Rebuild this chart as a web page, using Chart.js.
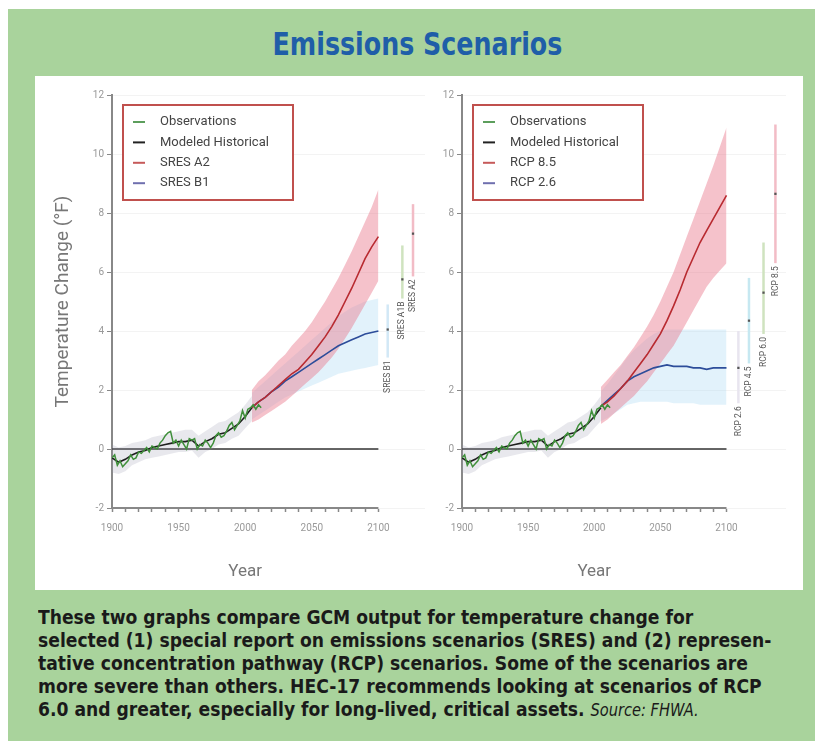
<!DOCTYPE html>
<html lang="en">
<head>
<meta charset="UTF-8">
<title>Emissions Scenarios</title>
<script src="https://cdn.jsdelivr.net/npm/chart.js"></script>
<style>
    body { margin: 0; background: #fff; width: 820px; height: 741px; position: relative; overflow: hidden; }
    #frame { position: absolute; left: 8px; top: 9px; width: 807px; height: 732px; background: #a9d39c; }
    h1 { position: absolute; left: 0; top: 25px; width: 835px; margin: 0; text-align: center;
         font: bold 32px "DejaVu Sans Condensed", sans-serif; color: #1f5ea8;
         transform: scaleX(0.88); transform-origin: 417px 0; }
    #panel { position: absolute; left: 35px; top: 76px; width: 768px; height: 514px; background: #fff; }
    canvas { position: absolute; top: 76px; }
    #left { left: 35px; }
    #right { left: 429px; }
    #caption { position: absolute; left: 38px; top: 606px; width: 820px;
               font: bold 20px/23px "DejaVu Sans Condensed", sans-serif; color: #1a1a1a;
               transform: scaleX(0.955); transform-origin: 0 0; }
    #caption i { font-weight: normal; font-size: 17px; }
</style>
</head>
<body>
<div id="frame"></div>
<h1>Emissions Scenarios</h1>
<div id="panel"></div>
<canvas id="left" width="394" height="514"></canvas>
<canvas id="right" width="361" height="514"></canvas>
<div id="caption">These two graphs compare GCM output for temperature change for<br>selected (1) special report on emissions scenarios (SRES) and (2) represen-<br>tative concentration pathway (RCP) scenarios. Some of the scenarios are<br>more severe than others. HEC-17 recommends looking at scenarios of RCP<br>6.0 and greater, especially for long-lived, critical assets. <i>Source: FHWA.</i></div>

<script>
    // observed record (every 2 years)
    const obsYears = [1900,1902,1904,1906,1908,1910,1912,1914,1916,1918,1920,1922,1924,1926,1928,1930,1932,1934,1936,1938,
        1940,1942,1944,1946,1948,1950,1952,1954,1956,1958,1960,1962,1964,1966,1968,1970,1972,1974,1976,1978,
        1980,1982,1984,1986,1988,1990,1992,1994,1996,1998,2000,2002,2004,2006,2008,2010,2012];
    const obsTemps = [-0.3,-0.2,-0.55,-0.4,-0.6,-0.5,-0.4,-0.2,-0.35,-0.3,-0.1,-0.15,-0.05,0.05,-0.1,0.1,0.05,0.0,0.2,0.3,
        0.45,0.55,0.6,0.2,0.3,0.1,0.3,0.15,0.0,0.35,0.3,0.35,0.0,0.15,0.1,0.3,0.2,0.05,0.2,0.45,
        0.55,0.4,0.45,0.6,0.8,0.9,0.65,0.8,0.95,1.3,1.05,1.35,1.4,1.5,1.35,1.5,1.4];

    // modeled historical run and its spread
    const histYears = [1900,1905,1910,1915,1920,1925,1930,1935,1940,1945,1950,1955,1960,1965,1970,1975,1980,1985,1990,1995,2000,2005];
    const histTemps = [-0.3,-0.45,-0.35,-0.2,-0.1,-0.05,0.05,0.1,0.15,0.2,0.25,0.25,0.3,0.1,0.25,0.35,0.5,0.55,0.7,0.85,1.1,1.4];
    const histHigh  = [0.15,0.05,0.1,0.2,0.25,0.3,0.4,0.45,0.5,0.55,0.6,0.65,0.65,0.45,0.6,0.75,0.9,0.95,1.1,1.25,1.5,1.8];
    const histLow   = [-0.8,-0.85,-0.75,-0.55,-0.45,-0.35,-0.3,-0.25,-0.2,-0.15,-0.1,-0.1,-0.05,-0.3,-0.1,0.0,0.15,0.2,0.35,0.45,0.7,0.95];

    // projections
    const projYears = [2005,2010,2015,2020,2025,2030,2035,2040,2045,2050,2055,2060,2065,2070,2075,2080,2085,2090,2095,2100];
    const sresA2     = [1.4,1.6,1.75,1.95,2.15,2.35,2.55,2.7,2.95,3.2,3.5,3.8,4.15,4.55,5.0,5.45,5.95,6.45,6.85,7.2];
    const sresA2High = [2.0,2.3,2.5,2.75,3.0,3.2,3.5,3.75,4.0,4.3,4.65,5.0,5.4,5.8,6.25,6.7,7.2,7.7,8.2,8.8];
    const sresA2Low  = [0.9,1.0,1.15,1.3,1.45,1.6,1.8,2.0,2.2,2.4,2.6,2.85,3.1,3.4,3.75,4.1,4.5,4.9,5.3,5.7];
    const sresB1     = [1.4,1.6,1.75,1.95,2.1,2.3,2.45,2.6,2.75,2.9,3.05,3.2,3.35,3.5,3.6,3.7,3.8,3.9,3.95,4.0];
    const sresB1High = [1.9,2.1,2.3,2.5,2.7,2.9,3.1,3.3,3.5,3.7,3.9,4.1,4.3,4.5,4.65,4.8,4.9,5.0,5.05,5.1];
    const sresB1Low  = [1.0,1.15,1.3,1.45,1.6,1.75,1.85,1.95,2.05,2.15,2.25,2.35,2.45,2.55,2.6,2.65,2.7,2.75,2.8,2.85];

    const rcp85     = [1.45,1.6,1.8,2.05,2.3,2.6,2.9,3.2,3.55,3.9,4.35,4.85,5.4,6.0,6.5,7.0,7.4,7.8,8.2,8.6];
    const rcp85High = [2.1,2.35,2.6,2.85,3.15,3.45,3.8,4.15,4.55,5.0,5.5,6.0,6.6,7.2,7.8,8.4,9.0,9.6,10.25,10.9];
    const rcp85Low  = [0.85,1.0,1.2,1.4,1.6,1.8,2.05,2.3,2.6,2.9,3.2,3.5,3.9,4.3,4.7,5.1,5.5,5.8,6.05,6.3];
    const rcp26     = [1.45,1.65,1.85,2.05,2.3,2.45,2.55,2.65,2.75,2.8,2.85,2.8,2.8,2.8,2.75,2.75,2.7,2.75,2.75,2.75];
    const rcp26High = [1.95,2.2,2.5,2.8,3.1,3.35,3.55,3.75,3.9,4.0,4.05,4.05,4.05,4.05,4.05,4.05,4.05,4.05,4.05,4.05];
    const rcp26Low  = [0.95,1.05,1.2,1.35,1.5,1.55,1.6,1.6,1.6,1.6,1.6,1.55,1.55,1.55,1.55,1.5,1.5,1.5,1.5,1.5];

    // 2100 ranges shown to the right of each plot
    const sresRangeNames = ['SRES B1', 'SRES A1B', 'SRES A2'];
    const sresRangeSlot  = [2107, 2118, 2126];
    const sresRangeLow   = [3.1, 5.1, 5.85];
    const sresRangeHigh  = [4.9, 6.9, 8.3];
    const sresRangeMean  = [4.05, 5.75, 7.3];

    const rcpRangeNames = ['RCP 2.6', 'RCP 4.5', 'RCP 6.0', 'RCP 8.5'];
    const rcpRangeSlot  = [2109, 2117, 2128, 2137];
    const rcpRangeLow   = [1.55, 2.9, 3.9, 6.3];
    const rcpRangeHigh  = [4.0, 5.8, 7.0, 11.0];
    const rcpRangeMean  = [2.75, 4.35, 5.3, 8.65];

    const yTicks = [-2, 0, 2, 4, 6, 8, 10, 12];
    const xLabelYears = [1900, 1950, 2000, 2050, 2100];

    const pts = (xs, ys) => xs.map((x, i) => ({x: x, y: ys[i]}));

    function band(hi, lo, xs, color, order) {
        return [
            { data: pts(xs, hi), borderColor: 'transparent', borderWidth: 0, pointRadius: 0, fill: false, order: order },
            { data: pts(xs, lo), borderColor: 'transparent', borderWidth: 0, pointRadius: 0, fill: '-1', backgroundColor: color, order: order }
        ];
    }

    function line(xs, ys, color, order, width) {
        return { data: pts(xs, ys), borderColor: color, borderWidth: width || 1.6, pointRadius: 0, fill: false, order: order, tension: 0 };
    }

    function ranges(names, slots, lows, highs, means, colors) {
        const sets = names.map((n, i) => ({
            data: [{x: slots[i], y: lows[i]}, {x: slots[i], y: highs[i]}],
            borderColor: colors[i], borderWidth: 2.5, pointRadius: 0, fill: false, order: 5, rangeLabel: n
        }));
        sets.push({
            data: pts(slots, means), showLine: false, pointStyle: 'rect', pointRadius: 1.6,
            pointBackgroundColor: '#555', pointBorderWidth: 0, order: 4
        });
        return sets;
    }

    const axisLines = {
        id: 'axisLines',
        beforeDatasetsDraw(chart) {
            const {ctx, scales: {x, y}} = chart;
            const x0 = x.getPixelForValue(1900), x1 = x.getPixelForValue(2100);
            ctx.save();
            ctx.strokeStyle = '#888'; ctx.lineWidth = 2;
            ctx.beginPath(); ctx.moveTo(x0 - 1, y.getPixelForValue(-2)); ctx.lineTo(x1, y.getPixelForValue(-2)); ctx.stroke();
            ctx.strokeStyle = '#333'; ctx.lineWidth = 1.5;
            ctx.beginPath(); ctx.moveTo(x0, y.getPixelForValue(0)); ctx.lineTo(x1, y.getPixelForValue(0)); ctx.stroke();
            ctx.restore();
        },
        afterDraw(chart) {
            // axis title centred under the 1900-2100 span, not the whole scale
            const {ctx, scales: {x}} = chart;
            ctx.save();
            ctx.font = '17px Roboto';
            ctx.fillStyle = '#777';
            ctx.textAlign = 'center';
            ctx.textBaseline = 'middle';
            ctx.fillText('Year', x.getPixelForValue(2000), x.bottom - 18);
            ctx.restore();
        }
    };

    const rangeLabels = {
        id: 'rangeLabels',
        afterDatasetsDraw(chart) {
            const ctx = chart.ctx;
            ctx.save();
            ctx.font = '8.5px Roboto';
            ctx.fillStyle = '#555';
            ctx.textAlign = 'right';
            ctx.textBaseline = 'middle';
            chart.data.datasets.forEach((ds, i) => {
                if (!ds.rangeLabel) return;
                const p = chart.getDatasetMeta(i).data[0];
                ctx.save();
                ctx.translate(p.x, p.y + 3);
                ctx.rotate(-Math.PI / 2);
                ctx.fillText(ds.rangeLabel, 0, 0);
                ctx.restore();
            });
            ctx.restore();
        }
    };

    const boxLegend = {
        id: 'boxLegend',
        afterDraw(chart, args, opts) {
            const {ctx, chartArea} = chart;
            const x0 = chartArea.left + 11, y0 = chartArea.top + 10;
            ctx.save();
            ctx.fillStyle = '#fff';
            ctx.fillRect(x0, y0, 170, 95);
            ctx.strokeStyle = '#c0504d'; ctx.lineWidth = 2;
            ctx.strokeRect(x0, y0, 170, 95);
            ctx.font = '13px Roboto';
            ctx.textBaseline = 'middle';
            opts.items.forEach((it, i) => {
                const y = y0 + 17 + i * 20.4;
                ctx.strokeStyle = it.color; ctx.lineWidth = 2;
                ctx.beginPath(); ctx.moveTo(x0 + 10, y); ctx.lineTo(x0 + 22, y); ctx.stroke();
                ctx.fillStyle = '#444';
                ctx.fillText(it.text, x0 + 37, y);
            });
            ctx.restore();
        }
    };

    function makeChart(id, cfg) {
        return new Chart(document.getElementById(id), {
            type: 'line',
            data: { datasets: cfg.datasets },
            options: {
                responsive: false,
                animation: false,
                layout: { padding: { top: 19, left: 0, right: 0, bottom: 0 } },
                plugins: {
                    legend: { display: false },
                    tooltip: { enabled: false },
                    boxLegend: { items: cfg.legend }
                },
                scales: {
                    x: {
                        type: 'linear', min: 1900, max: cfg.xMax,
                        border: { display: false },
                        grid: { drawOnChartArea: false, tickLength: 4, tickColor: '#888', tickWidth: 1.5 },
                        ticks: {
                            stepSize: 10, autoSkip: false, maxRotation: 0, padding: 10,
                            color: '#999', font: { size: 10, family: 'Roboto' },
                            callback: v => xLabelYears.includes(v) ? String(v) : ''
                        },
                        afterBuildTicks: s => { s.ticks = s.ticks.filter(t => t.value <= 2100); },
                        afterFit: s => { s.height = 82; }
                    },
                    y: {
                        min: -2, max: 12,
                        afterBuildTicks: s => { s.ticks = yTicks.map(v => ({value: v})); },
                        border: { color: '#888', width: 2 },
                        grid: { color: '#f3f3f3', tickLength: 5, tickColor: '#888' },
                        ticks: { color: '#999', padding: 3, font: { size: 10, family: 'Roboto' } },
                        afterFit: s => { s.width = cfg.yWidth; },
                        title: { display: cfg.yTitle, text: 'Temperature Change (\u00b0F)', color: '#777',
                                 font: { size: 19, family: 'Roboto' }, padding: { top: 17, bottom: 0 } }
                    }
                }
            },
            plugins: [axisLines, rangeLabels, boxLegend]
        });
    }

    const obsColor = '#3f8f3a', histColor = '#1e1e1e', hotColor = '#b82a30', coolColor = '#2d4d9a';
    const pink = 'rgba(232,120,140,0.45)', skyBlue = 'rgba(180,220,245,0.38)', grey = 'rgba(150,150,175,0.22)';

    makeChart('left', {
        xMax: 2135, yWidth: 77, yTitle: true,
        legend: [
            {text: 'Observations', color: '#5c9e5c'},
            {text: 'Modeled Historical', color: '#222'},
            {text: 'SRES A2', color: '#c65a5a'},
            {text: 'SRES B1', color: '#6f6fae'}
        ],
        datasets: [
            line(obsYears, obsTemps, obsColor, 1, 1.5),
            line(histYears, histTemps, histColor, 2, 1.6),
            line(projYears, sresA2, hotColor, 3, 1.6),
            line(projYears, sresB1, coolColor, 3, 1.6),
            ...band(histHigh, histLow, histYears, grey, 10),
            ...band(sresA2High, sresA2Low, projYears, pink, 9),
            ...band(sresB1High, sresB1Low, projYears, skyBlue, 11),
            ...ranges(sresRangeNames, sresRangeSlot, sresRangeLow, sresRangeHigh, sresRangeMean,
                ['#d2e8f6', '#cfe3bf', '#f2bcc6'])
        ]
    });

    makeChart('right', {
        xMax: 2145, yWidth: 33, yTitle: false,
        legend: [
            {text: 'Observations', color: '#5c9e5c'},
            {text: 'Modeled Historical', color: '#222'},
            {text: 'RCP 8.5', color: '#c65a5a'},
            {text: 'RCP 2.6', color: '#6f6fae'}
        ],
        datasets: [
            line(obsYears, obsTemps, obsColor, 1, 1.5),
            line(histYears, histTemps, histColor, 2, 1.6),
            line(projYears, rcp85, hotColor, 3, 1.6),
            line(projYears, rcp26, coolColor, 3, 1.6),
            ...band(histHigh, histLow, histYears, grey, 10),
            ...band(rcp85High, rcp85Low, projYears, pink, 9),
            ...band(rcp26High, rcp26Low, projYears, skyBlue, 11),
            ...ranges(rcpRangeNames, rcpRangeSlot, rcpRangeLow, rcpRangeHigh, rcpRangeMean,
                ['#e8e5ef', '#c6e8f1', '#cfe3bf', '#f2bcc6'])
        ]
    });
</script>
</body>
</html>
